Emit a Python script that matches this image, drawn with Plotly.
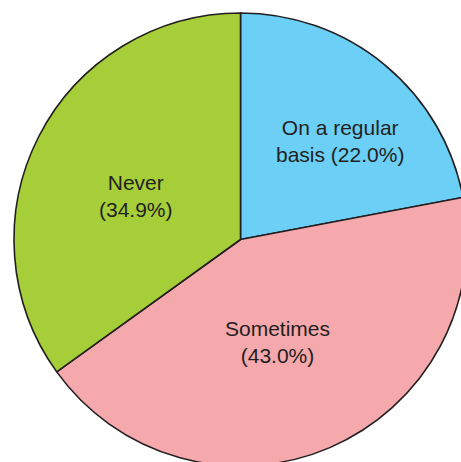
import math
import plotly.graph_objects as go

# Data
categories = ["On a regular basis", "Sometimes", "Never"]
shares = [22.0, 43.0, 34.9]
label_lines = ["On a regular<br>basis ({v:.1f}%)", "Sometimes<br>({v:.1f}%)", "Never<br>({v:.1f}%)"]
slice_colors = ["#6BCFF6", "#F6A9AC", "#A6CE39"]

# label placement (layout): angular nudge from slice bisector (deg) and radius fraction
label_nudge_deg = [5.7, 3.6, -4.7]
label_radius_frac = [0.618, 0.48, 0.499]

fig = go.Figure(
    go.Pie(
        labels=categories,
        values=shares,
        sort=False,
        direction="clockwise",
        rotation=0,
        marker=dict(colors=slice_colors, line=dict(color="#231F20", width=1.6)),
        textinfo="none",
        hoverinfo="label+percent",
        showlegend=False,
        domain=dict(x=[0, 1], y=[0, 1]),
    )
)

# place labels along each slice, angles derived from the data
total = sum(shares)
cum = 0.0
annotations = []
for i, v in enumerate(shares):
    start = cum / total * 360.0
    cum += v
    stop = cum / total * 360.0
    ang = math.radians((start + stop) / 2 + label_nudge_deg[i])
    rf = label_radius_frac[i]
    x = 0.5 + 0.5 * rf * math.sin(ang)
    y = 0.5 + 0.5 * rf * math.cos(ang)
    annotations.append(
        dict(
            x=x, y=y, xref="paper", yref="paper",
            xanchor="center", yanchor="middle",
            text=label_lines[i].format(v=v),
            showarrow=False,
            align="center",
            font=dict(family="Liberation Sans, Arial, sans-serif", size=21, color="#231F20"),
        )
    )

fig.update_layout(
    width=470,
    height=470,
    margin=dict(l=14, r=3, t=13, b=4, pad=0),
    paper_bgcolor="white",
    plot_bgcolor="white",
    showlegend=False,
    annotations=annotations,
)

fig.write_html(
    "out.html",
    post_script="document.documentElement.style.overflow='hidden';document.body.style.overflow='hidden';document.body.style.margin='0';",
)
